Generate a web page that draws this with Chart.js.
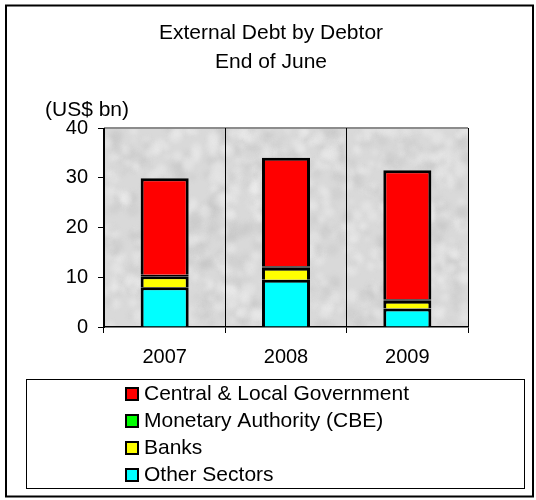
<!DOCTYPE html>
<html>
<head>
<meta charset="utf-8">
<script src="https://cdn.jsdelivr.net/npm/chart.js@4/dist/chart.umd.min.js"></script>
<style>
  html, body { margin: 0; padding: 0; background: #fff; }
  #wrap { width: 536px; height: 500px; }
</style>
</head>
<body>
<div id="wrap"><canvas id="c" width="536" height="500"></canvas></div>
<script>
// Categories and series (US$ bn, end of June)
const years = ['2007', '2008', '2009'];
const centralLocalGov = [19.4, 21.8, 25.9];
const monetaryAuthority = [0.3, 0.3, 0.3];
const banks = [2.2, 2.4, 1.6];
const otherSectors = [8.0, 9.5, 3.7];

// Axis and text
const yMin = 0, yMax = 40, yStep = 10;
const titleLines = ['External Debt by Debtor', 'End of June'];
const unitLabel = '(US$ bn)';

const FONT = '"Liberation Sans", Arial, sans-serif';

// Granite-like texture for the plot background
function makeTexture(w, h) {
  const off = document.createElement('canvas');
  off.width = w; off.height = h;
  const g = off.getContext('2d');
  g.fillStyle = '#d9d9d9';
  g.fillRect(0, 0, w, h);
  const frac = v => v - Math.floor(v);
  g.filter = 'blur(2px)';
  for (let i = 0; i < 900; i++) {
    const x = frac(Math.sin(i * 12.9898) * 43758.5453) * w;
    const y = frac(Math.sin(i * 78.233) * 24634.6345) * h;
    const r = 2 + frac(Math.sin(i * 3.17) * 9631.2) * 5;
    const light = frac(Math.sin(i * 5.71) * 1373.1) > 0.45;
    g.fillStyle = light ? 'rgba(238,238,238,0.45)' : 'rgba(195,195,195,0.35)';
    g.beginPath();
    g.arc(x, y, r, 0, Math.PI * 2);
    g.fill();
  }
  g.filter = 'none';
  return off;
}

const decor = {
  id: 'decor',
  beforeDraw(chart) {
    const { ctx, chartArea: a } = chart;
    ctx.save();
    ctx.fillStyle = '#fff';
    ctx.fillRect(0, 0, chart.width, chart.height);
    const tex = makeTexture(Math.ceil(a.right - a.left), Math.ceil(a.bottom - a.top));
    ctx.drawImage(tex, a.left, a.top);
    // plot frame top edge
    ctx.strokeStyle = '#8c8c8c';
    ctx.lineWidth = 2;
    ctx.beginPath();
    ctx.moveTo(a.left, a.top);
    ctx.lineTo(a.right, a.top);
    ctx.stroke();
    ctx.restore();
  },
  afterDraw(chart) {
    const { ctx } = chart;
    ctx.save();
    // outer frame
    ctx.strokeStyle = '#000';
    ctx.lineWidth = 2;
    ctx.strokeRect(6, 5.5, 527, 491);

    // titles
    ctx.fillStyle = '#000';
    ctx.font = '21px ' + FONT;
    ctx.textAlign = 'center';
    ctx.textBaseline = 'middle';
    ctx.fillText(titleLines[0], 271, 33);
    ctx.fillText(titleLines[1], 271, 62);

    // unit label
    ctx.textAlign = 'left';
    ctx.fillText(unitLabel, 45, 110);

    // legend (top of stack listed first)
    ctx.strokeStyle = '#000';
    ctx.lineWidth = 1;
    ctx.strokeRect(26.5, 379.5, 498, 109);
    const ds = chart.data.datasets.slice().reverse();
    ds.forEach((d, i) => {
      const cy = 394 + i * 27;
      ctx.fillStyle = '#000';
      ctx.fillRect(125, cy - 7, 14, 14);
      ctx.fillStyle = d.backgroundColor;
      ctx.fillRect(127, cy - 5, 10, 10);
      ctx.fillStyle = '#000';
      ctx.fillText(d.label, 144, cy);
    });
    ctx.restore();
  }
};

new Chart(document.getElementById('c'), {
  type: 'bar',
  data: {
    labels: years,
    datasets: [
      { label: 'Other Sectors', data: otherSectors, backgroundColor: '#00ffff' },
      { label: 'Banks', data: banks, backgroundColor: '#ffff00' },
      { label: 'Monetary Authority (CBE)', data: monetaryAuthority, backgroundColor: '#00ff00', borderSkipped: false },
      { label: 'Central & Local Government', data: centralLocalGov, backgroundColor: '#ff0000' }
    ]
  },
  options: {
    responsive: false,
    animation: false,
    devicePixelRatio: 1,
    layout: { padding: { left: 0, right: 68, top: 128, bottom: 133 } },
    datasets: {
      bar: {
        borderColor: '#000',
        borderWidth: 3,
        barPercentage: 0.396,
        categoryPercentage: 1
      }
    },
    plugins: {
      legend: { display: false },
      title: { display: false },
      tooltip: { enabled: false }
    },
    scales: {
      x: {
        stacked: true,
        afterFit(s) { s.height = 40; },
        grid: {
          offset: true,
          drawOnChartArea: true,
          tickLength: 6,
          lineWidth: 1,
          color: ctx => (ctx.index === years.length ? '#8c8c8c' : '#000')
        },
        border: { display: true, color: '#000', width: 1.5 },
        ticks: { color: '#000', padding: 12, font: { family: FONT, size: 20 } }
      },
      y: {
        stacked: true,
        min: yMin,
        max: yMax,
        afterFit(s) { s.width = 104; },
        grid: { drawOnChartArea: false, tickLength: 6, color: '#000' },
        border: { display: true, color: '#000', width: 1 },
        ticks: { stepSize: yStep, color: '#000', padding: 10, font: { family: FONT, size: 20 } }
      }
    }
  },
  plugins: [decor]
});
</script>
</body>
</html>
